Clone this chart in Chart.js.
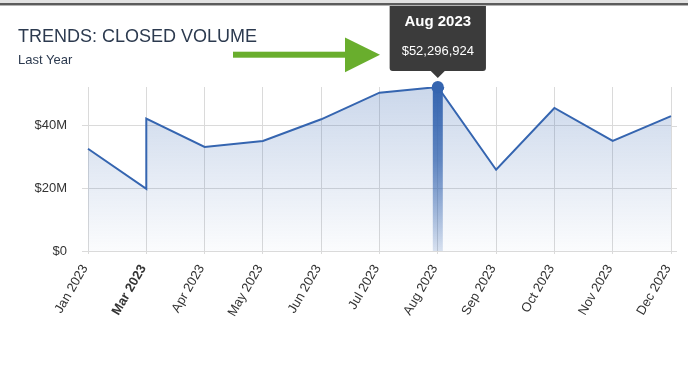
<!DOCTYPE html>
<html>
<head>
<meta charset="utf-8">
<script src="https://cdn.jsdelivr.net/npm/chart.js@4/dist/chart.umd.min.js"></script>
<style>
  html, body { margin: 0; padding: 0; background: #fff; }
  body { width: 688px; height: 365px; position: relative; overflow: hidden; font-family: "Liberation Sans", Arial, sans-serif; }
  #topbar1 { position: absolute; left: 0; top: 0; width: 688px; height: 3px; background: #e2e2e2; }
  #topbar2 { position: absolute; left: 0; top: 3px; width: 688px; height: 2px; background: #5c5c5c; }
  #topbar3 { position: absolute; left: 0; top: 5px; width: 688px; height: 1px; background: #b4b4b4; }
  #wrap { position: absolute; left: 0; top: 0; width: 688px; height: 365px; }
  #title { position: absolute; left: 18px; top: 27px; font-size: 18px; line-height: 18px; color: #2c3a4f; z-index: 2; white-space: nowrap; }
  #subtitle { position: absolute; left: 18px; top: 53px; font-size: 13px; line-height: 13px; color: #2c3a4f; z-index: 2; white-space: nowrap; }
  #arrow { position: absolute; left: 0; top: 0; z-index: 2; }
</style>
</head>
<body>
<div id="wrap"><canvas id="c" width="688" height="365"></canvas></div>
<div id="topbar1"></div><div id="topbar2"></div><div id="topbar3"></div>
<div id="title">TRENDS: CLOSED VOLUME</div>
<div id="subtitle">Last Year</div>
<svg id="arrow" width="688" height="90">
  <rect x="233" y="51.7" width="113" height="6" fill="#69ae2d"/>
  <polygon points="345,37.5 380,54.8 345,72.3" fill="#69ae2d"/>
</svg>
<script>
// Tick labels on the x axis
const categories = ['Jan 2023','Mar 2023','Apr 2023','May 2023','Jun 2023','Jul 2023','Aug 2023','Sep 2023','Oct 2023','Nov 2023','Dec 2023'];
// Category of each point (two points share the Mar 2023 position)
const pointCategories = ['Jan 2023','Mar 2023','Mar 2023','Apr 2023','May 2023','Jun 2023','Jul 2023','Aug 2023','Sep 2023','Oct 2023','Nov 2023','Dec 2023'];
// Closed volume values (USD)
const closedVolume = [32600000, 19800000, 42200000, 33200000, 35100000, 42000000, 50500000, 52296924, 25900000, 45600000, 35100000, 43000000];
// Y tick values
const yTicks = [0, 20000000, 40000000];
const highlightIndex = 7;

const lineColor = '#3565b0';

const highlightPlugin = {
  id: 'highlight',
  beforeDatasetsDraw(chart) {
    // extend horizontal grid lines slightly past the right edge, like the reference
    const ctx = chart.ctx, area = chart.chartArea, y = chart.scales.y;
    ctx.save();
    ctx.strokeStyle = '#dadada';
    ctx.lineWidth = 1;
    yTicks.forEach(v => {
      const py = Math.round(y.getPixelForValue(v)) + 0.5;
      ctx.beginPath();
      ctx.moveTo(area.right, py);
      ctx.lineTo(area.right + 6, py);
      ctx.stroke();
    });
    ctx.restore();
  },
  afterDatasetsDraw(chart) {
    const el = chart.getDatasetMeta(0).data[highlightIndex];
    if (!el) return;
    const ctx = chart.ctx, area = chart.chartArea;
    ctx.save();
    const g = ctx.createLinearGradient(0, el.y, 0, area.bottom);
    g.addColorStop(0, 'rgba(53,101,176,1)');
    g.addColorStop(0.45, 'rgba(53,101,176,0.75)');
    g.addColorStop(1, 'rgba(53,101,176,0.18)');
    ctx.fillStyle = g;
    ctx.fillRect(el.x - 5, el.y, 10, area.bottom - el.y);
    ctx.beginPath();
    ctx.arc(el.x, el.y, 6, 0, Math.PI * 2);
    ctx.fillStyle = lineColor;
    ctx.fill();
    ctx.restore();
  }
};

const chart = new Chart(document.getElementById('c'), {
  type: 'line',
  data: {
    labels: categories,
    datasets: [{
      data: pointCategories.map((c, i) => ({ x: c, y: closedVolume[i] })),
      borderColor: lineColor,
      borderWidth: 2,
      tension: 0,
      fill: 'origin',
      pointRadius: 0,
      pointHoverRadius: 6,
      pointHitRadius: 0,
      pointHoverBackgroundColor: lineColor,
      pointHoverBorderColor: lineColor,
      backgroundColor: (ctx) => {
        const chart = ctx.chart;
        const area = chart.chartArea;
        if (!area) return 'rgba(53,101,176,0.15)';
        const g = chart.ctx.createLinearGradient(0, area.top, 0, area.bottom);
        g.addColorStop(0, 'rgba(53,101,176,0.26)');
        g.addColorStop(1, 'rgba(53,101,176,0.02)');
        return g;
      }
    }]
  },
  options: {
    responsive: false,
    animation: false,
    events: [],
    layout: { padding: { top: 87, right: 17, left: 0, bottom: 0 } },
    plugins: {
      legend: { display: false },
      title: { display: false },
      tooltip: {
        enabled: true,
        backgroundColor: '#3b3b3b',
        titleColor: '#ffffff',
        bodyColor: '#ffffff',
        titleFont: { family: 'Liberation Sans', size: 15, weight: 'bold' },
        bodyFont: { family: 'Liberation Sans', size: 13 },
        titleAlign: 'center',
        bodyAlign: 'center',
        titleMarginBottom: 13,
        padding: 12,
        caretSize: 7,
        caretPadding: 9,
        cornerRadius: 3,
        displayColors: false,
        xAlign: 'center',
        yAlign: 'bottom',
        callbacks: {
          title: (items) => items.length ? items[0].label : '',
          label: (item) => '$' + Math.round(item.parsed.y).toLocaleString('en-US')
        }
      }
    },
    scales: {
      x: {
        type: 'category',
        offset: false,
        grid: { color: '#dadada', lineWidth: 1, tickLength: 3, drawTicks: true },
        border: { color: '#dadada' },
        ticks: {
          color: '#333333',
          font: (ctx) => ({ family: 'Liberation Sans', size: 13, weight: ctx.index === 1 ? 'bold' : 'normal' }),
          minRotation: 60,
          maxRotation: 60,
          padding: 8,
          labelOffset: -3,
          autoSkip: false
        },
        afterFit: (s) => { s.height = 114; s.paddingLeft = 0; s.paddingRight = 0; }
      },
      y: {
        min: 0,
        max: 52296924,
        grid: { color: '#dadada', lineWidth: 1, tickLength: 6 },
        border: { color: '#dadada' },
        ticks: {
          color: '#333333',
          font: { family: 'Liberation Sans', size: 13 },
          padding: 15,
          stepSize: 20000000,
          callback: (v) => v === 0 ? '$0' : '$' + (v / 1000000) + 'M'
        },
        afterBuildTicks: (s) => { s.ticks = yTicks.map(v => ({ value: v })); },
        afterFit: (s) => { s.width = 88; s.paddingTop = 0; s.paddingBottom = 0; }
      }
    }
  },
  plugins: [highlightPlugin]
});

const active = [{ datasetIndex: 0, index: highlightIndex }];
chart.setActiveElements(active);
const el = chart.getDatasetMeta(0).data[highlightIndex];
chart.tooltip.setActiveElements(active, { x: el.x, y: el.y });
chart.update('none');
</script>
</body>
</html>
